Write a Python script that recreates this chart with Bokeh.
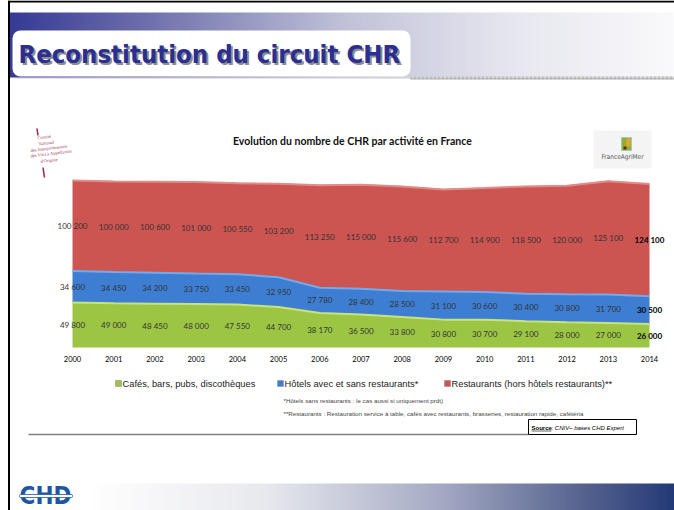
import numpy as np
from bokeh.plotting import figure
from bokeh.models import Range1d, ColumnDataSource
from bokeh.core.properties import value
from bokeh.transform import stack
from bokeh.embed import file_html
from bokeh.resources import INLINE

# ---------------- data ----------------
years = [2000, 2001, 2002, 2003, 2004, 2005, 2006, 2007, 2008, 2009, 2010, 2011, 2012, 2013, 2014]
year_labels = ["2000", "2001", "2002", "2003", "2004", "2005", "2006", "2007",
               "2008", "2009", "2010", "2011", "2012", "2013", "2014"]
cafes = [49800, 49000, 48450, 48000, 47550, 44700, 38170, 36500, 33800, 30800, 30700, 29100, 28000, 27000, 26000]
hotels = [34600, 34450, 34200, 33750, 33450, 32950, 27780, 28400, 28500, 31100, 30600, 30400, 30800, 31700, 30500]
restaurants = [100200, 100000, 100600, 101000, 100550, 103200, 113250, 115000, 115600, 112700,
               114900, 118500, 120000, 125100, 124100]
series_names = ["Cafés, bars, pubs, discothèques",
                "Hôtels avec et sans restaurants*",
                "Restaurants (hors hôtels restaurants)**"]
slide_title = "Reconstitution du circuit CHR"
chart_title = "Evolution du nombre de CHR par activité en France"
footnotes = ["*Hôtels sans restaurants : le cas aussi si uniquement prdt)",
             "**Restaurants : Restauration service à table, cafés avec restaurants, brasseries, restauration rapide, cafétéria"]
source_bold = "Source"
source_rest = " : CNIV– bases CHD Expert"
cniv_lines = ["Comité", "National", "des Interprofessions", "des Vins à Appellation", "d'Origine"]

# ---------------- layout helpers ----------------
W, H = 674, 510
def X(px):
    return px
def Y(py):
    return H - py

GREEN, BLUE, RED = "#9dc544", "#3e7ed2", "#cc5552"
COND = value("DejaVu Sans Condensed")

p = figure(width=W, height=H, x_range=Range1d(0, W), y_range=Range1d(0, H),
           output_backend="svg", toolbar_location=None, tools="",
           x_axis_location=None, y_axis_location=None, min_border=0,
           outline_line_color=None, background_fill_color="white", border_fill_color="white")
p.grid.grid_line_color = None

# data scales (year axis / count axis) mapped onto the chart frame
px_per_year = (649 - 72) / (2014 - 2000)
x0 = X(72)
p.extra_x_ranges = {"yr": Range1d(2000 - x0 / px_per_year, 2000 + (W - x0) / px_per_year)}
px_per_unit = 0.905 / 1000
base = Y(347)
p.extra_y_ranges = {"cnt": Range1d(-base / px_per_unit, (H - base) / px_per_unit)}

def hgrad(stops, n=256):
    img = np.empty((1, n), dtype=np.uint32)
    v = img.view(dtype=np.uint8).reshape((1, n, 4))
    t = np.linspace(0, 1, n)
    pos = [s[0] for s in stops]
    for k in range(3):
        v[0, :, k] = np.interp(t, pos, [s[1][k] for s in stops]).astype(np.uint8)
    v[0, :, 3] = 255
    return img

# ---------------- slide decorations ----------------
top_img = hgrad([(0, (55, 58, 150)), (0.25, (122, 124, 178)), (0.5, (192, 193, 216)),
                 (0.75, (230, 230, 239)), (1, (250, 250, 252))])
p.image_rgba(image=[top_img], x=X(9), y=Y(77), dw=X(674) - X(9), dh=Y(12) - Y(77))

p.quad(left=[X(12)], right=[X(410)], bottom=[Y(76)], top=[Y(30)], fill_color="white",
       line_color=None, border_radius=8)
p.line([X(15), X(410)], [Y(77.5), Y(77.5)], line_color="#999999", line_width=1, line_dash="1 1")
p.quad(left=[X(410)], right=[X(674)], bottom=[Y(79)], top=[Y(76)], fill_color="#d6d6d6",
       line_color=None, hatch_pattern="+", hatch_color="#a8a8a8", hatch_scale=4)

p.text(x=[X(20)], y=[Y(55)], text=[slide_title], text_font=COND,
       text_font_style="bold", text_font_size="25.5px", text_color="#8e8e8e",
       text_baseline="middle", text_align="left")
p.text(x=[X(18)], y=[Y(53)], text=[slide_title], text_font=COND,
       text_font_style="bold", text_font_size="25.5px", text_color="#2b2f93",
       text_baseline="middle", text_align="left")

bot_img = hgrad([(0, (255, 255, 255)), (0.3, (232, 233, 238)), (0.6, (165, 170, 196)),
                 (0.85, (85, 98, 142)), (1, (36, 58, 120))])
p.image_rgba(image=[bot_img], x=X(90), y=Y(510), dw=X(674) - X(90), dh=Y(483) - Y(510))

# CHD logo
p.text(x=[X(45)], y=[Y(495)], text=["CHD"], text_font=COND,
       text_font_style="bold", text_font_size="24px", text_color="#1f56a2",
       text_baseline="middle", text_align="center")
p.quad(left=[X(19)], right=[X(72)], bottom=[Y(497)], top=[Y(494)], fill_color="white",
       line_color="#1f56a2", line_width=0.8, border_radius=1)

# slide border
p.line([X(8.5), X(8.5)], [0, H], line_color="black", line_width=2)
p.line([X(8), X(674)], [Y(1), Y(1)], line_color="black", line_width=2)

# CNIV logo (top-left)
cx = [X(37), X(38), X(30), X(30), X(40)]
cy = [Y(137.5), Y(143.5), Y(150), Y(155.5), Y(161)]
p.text(x=cx, y=cy, text=cniv_lines, text_font=value("Liberation Serif"), text_font_size="4.6px",
       text_color="#a3405e", text_baseline="middle", text_align="left", angle=0.12)
p.segment(x0=[X(36.5), X(42.5)], y0=[Y(128), Y(167)], x1=[X(37.5), X(44)], y1=[Y(135), Y(177)],
          line_color="#a8284f", line_width=1.6)

# FranceAgriMer logo
p.quad(left=[X(593)], right=[X(651)], bottom=[Y(168)], top=[Y(130)], fill_color="#f4f4f4", line_color=None)
p.quad(left=[X(621)], right=[X(631)], bottom=[Y(150)], top=[Y(137)], fill_color="#97ad2c", line_color="#6fd0e0",
       line_width=0.6)
p.quad(left=[X(626)], right=[X(630)], bottom=[Y(146)], top=[Y(138)], fill_color="#e8a23a", line_color=None)
p.quad(left=[X(623)], right=[X(626)], bottom=[Y(149)], top=[Y(146)], fill_color="#5a3020", line_color=None)
p.text(x=[X(622)], y=[Y(156)], text=["FranceAgriMer"], text_font=COND,
       text_font_size="6.5px", text_color="#555555", text_baseline="middle", text_align="center")

# ---------------- chart ----------------
src = ColumnDataSource(dict(year=years, cafes=cafes, hotels=hotels, restaurants=restaurants))
p.varea_stack(["cafes", "hotels", "restaurants"], x="year", color=[GREEN, BLUE, RED], source=src,
              x_range_name="yr", y_range_name="cnt")
p.line(x="year", y=stack("cafes", "hotels", "restaurants"), source=src, line_color="#9a9a9a",
       line_width=1, x_range_name="yr", y_range_name="cnt")
p.line(x="year", y=stack("cafes", "hotels", "restaurants"), source=src, line_color="#e48a86",
       line_width=2, x_range_name="yr", y_range_name="cnt")
p.line(x="year", y=stack("cafes", "hotels"), source=src, line_color="#72aaf0",
       line_width=2, x_range_name="yr", y_range_name="cnt")
p.line(x="year", y=stack("cafes"), source=src, line_color="#c9e27c",
       line_width=2, x_range_name="yr", y_range_name="cnt")

c = np.array(cafes, dtype=float)
h = np.array(hotels, dtype=float)
r = np.array(restaurants, dtype=float)
mids = np.concatenate([c / 2, c + h / 2, c + h + r / 2])
vals = cafes + hotels + restaurants
lab_x = years * 3
fmt = [f"{v:,}".replace(",", " ") for v in vals]
fstyle = ["bold" if yv == years[-1] else "normal" for yv in lab_x]
fcol = ["#000000" if yv == years[-1] else "#333333" for yv in lab_x]
lab_src = ColumnDataSource(dict(x=lab_x, y=list(mids), text=fmt, fs=fstyle, col=fcol))
p.text(x="x", y="y", text="text", source=lab_src, text_font=value("Lato"), text_font_size="8px",
       text_font_style="fs", text_color="col", text_align="center", text_baseline="middle",
       x_range_name="yr", y_range_name="cnt")

# x tick labels
p.text(x=years, y=[Y(358)] * len(years), text=year_labels, text_font=value("Lato"),
       text_font_size="7.5px", text_color="#000000", text_align="center", text_baseline="middle",
       x_range_name="yr")

# chart title
p.text(x=[X(352)], y=[Y(140)], text=[chart_title], text_font=value("Lato"), text_font_style="bold",
       text_font_size="10.5px", text_color="#111111", text_align="center", text_baseline="middle")

# legend
lg_x = [118, 280, 447]
p.quad(left=[X(v - 3) for v in lg_x], right=[X(v + 3) for v in lg_x], bottom=[Y(386)] * 3,
       top=[Y(380)] * 3, fill_color=[GREEN, BLUE, RED], line_color="#888888", line_width=0.5)
p.text(x=[X(v + 4) for v in lg_x], y=[Y(383)] * 3, text=series_names, text_font=value("Liberation Sans"),
       text_font_size="9.3px", text_color="#222222", text_align="left", text_baseline="middle")

# footnotes
p.text(x=[X(283), X(283)], y=[Y(400), Y(413)], text=footnotes, text_font=value("Liberation Sans"),
       text_font_size="6.2px", text_color="#444444", text_align="left", text_baseline="middle")

# bottom rule and source box
p.line([X(28), X(528)], [Y(434), Y(434)], line_color="#808080", line_width=1.5)
p.quad(left=[X(528)], right=[X(636)], bottom=[Y(434)], top=[Y(419)], fill_color="white",
       line_color="black", line_width=1)
p.text(x=[X(531)], y=[Y(427)], text=[source_bold], text_font=value("Liberation Sans"),
       text_font_style="bold", text_font_size="6px", text_color="#000000", text_baseline="middle")
p.line([X(531), X(551)], [Y(430.5), Y(430.5)], line_color="black", line_width=0.6)
p.text(x=[X(551)], y=[Y(427)], text=[source_rest], text_font=value("Liberation Sans"),
       text_font_style="italic", text_font_size="6px", text_color="#000000", text_baseline="middle")

open("out.html", "w").write(file_html(p, INLINE))
